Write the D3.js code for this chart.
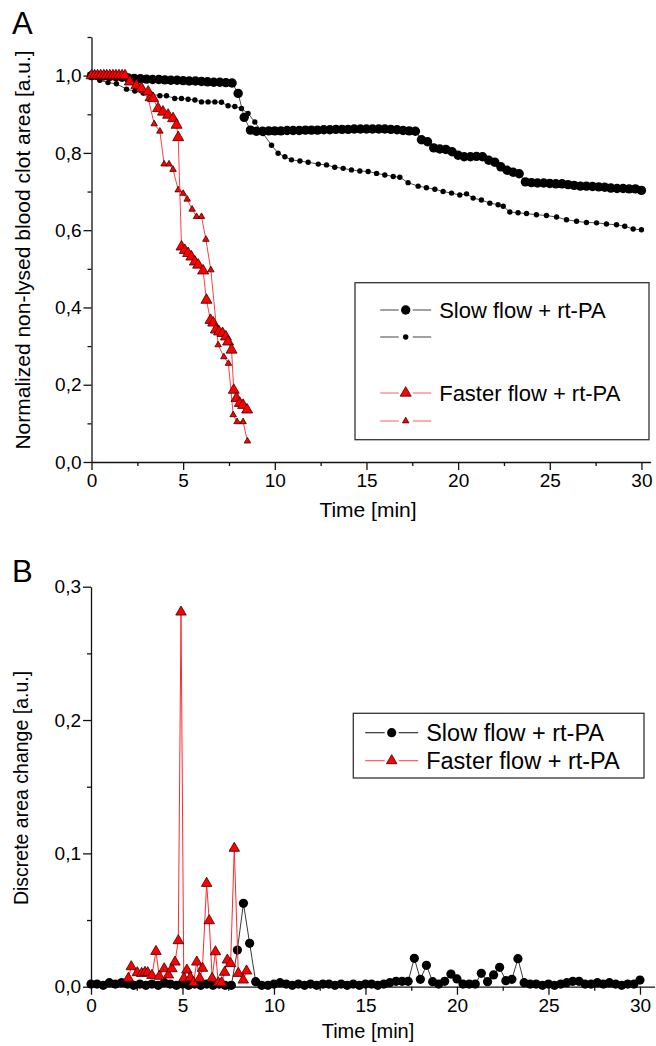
<!DOCTYPE html>
<html>
<head>
<meta charset="utf-8">
<script src="https://cdn.jsdelivr.net/npm/d3@7"></script>
<style>
    body { margin: 0; background: #fff; }
    text { font-family: "Liberation Sans", Arial, sans-serif; fill: #000; }
</style>
</head>
<body>
<script>
/*--------- Données ------------------------------------*/

// A : slow flow, grands cercles (pas de 20 s)
var slowBigTime = [0, 0.33, 0.67, 1, 1.33, 1.67, 2, 2.33, 2.67, 3, 3.33, 3.67, 4, 4.33, 4.67, 5, 5.33, 5.67,
    6, 6.33, 6.67, 7, 7.33, 7.67, 8, 8.33, 8.67, 9, 9.33, 9.67, 10, 10.33, 10.67, 11, 11.33, 11.67,
    12, 12.33, 12.67, 13, 13.33, 13.67, 14, 14.33, 14.67, 15, 15.33, 15.67, 16, 16.33, 16.67, 17, 17.33, 17.67,
    18, 18.33, 18.67, 19, 19.33, 19.67, 20, 20.33, 20.67, 21, 21.33, 21.67, 22, 22.33, 22.67, 23, 23.33, 23.67,
    24, 24.33, 24.67, 25, 25.33, 25.67, 26, 26.33, 26.67, 27, 27.33, 27.67, 28, 28.33, 28.67, 29, 29.33, 29.67, 30];
var slowBigArea = [1.000, 1.000, 0.999, 0.998, 0.997, 0.996, 0.994, 0.993, 0.992, 0.991, 0.990, 0.990, 0.989, 0.988, 0.988, 0.987, 0.986, 0.986,
    0.985, 0.984, 0.983, 0.983, 0.982, 0.981, 0.954, 0.892, 0.859, 0.856, 0.856, 0.857, 0.857, 0.857, 0.858, 0.858, 0.858, 0.859,
    0.859, 0.859, 0.860, 0.860, 0.861, 0.861, 0.861, 0.862, 0.862, 0.862, 0.862, 0.862, 0.862, 0.861, 0.860, 0.858, 0.857, 0.856,
    0.834, 0.829, 0.813, 0.810, 0.809, 0.803, 0.794, 0.790, 0.790, 0.791, 0.790, 0.781, 0.776, 0.764, 0.755, 0.750, 0.746, 0.725,
    0.723, 0.722, 0.722, 0.721, 0.720, 0.720, 0.718, 0.716, 0.714, 0.714, 0.713, 0.712, 0.711, 0.709, 0.708, 0.708, 0.707, 0.707, 0.703];

// A : slow flow, petits cercles
var slowSmallTime = [0, 0.45, 0.9, 1.36, 1.91, 2.36, 2.82, 3.27, 3.73, 4.09, 4.54, 4.91, 5.27, 5.64, 6.0, 6.36, 6.73, 7.09, 7.45, 7.82,
    8.18, 8.54, 8.91, 9.36, 9.82, 10.18, 10.55, 10.91, 11.37, 11.82, 12.37, 12.82, 13.27, 13.73, 14.18, 14.64, 15.09, 15.55, 16.0, 16.46,
    16.82, 17.27, 17.82, 18.27, 18.73, 19.18, 19.64, 20.09, 20.46, 20.82, 21.27, 21.73, 22.18, 22.46, 22.82, 23.27, 23.73, 24.27, 24.82, 25.37,
    25.91, 26.46, 27.0, 27.55, 28.09, 28.64, 29.09, 29.55, 30.0];
var slowSmallArea = [1.0, 0.988, 0.982, 0.979, 0.965, 0.960, 0.955, 0.952, 0.948, 0.948, 0.941, 0.941, 0.939, 0.937, 0.932, 0.932, 0.932, 0.931, 0.922, 0.920,
    0.915, 0.902, 0.880, 0.850, 0.820, 0.799, 0.790, 0.782, 0.779, 0.776, 0.771, 0.769, 0.763, 0.760, 0.756, 0.753, 0.752, 0.747, 0.743, 0.739,
    0.737, 0.723, 0.714, 0.710, 0.706, 0.700, 0.696, 0.691, 0.694, 0.683, 0.678, 0.670, 0.666, 0.662, 0.647, 0.645, 0.643, 0.640, 0.638, 0.634,
    0.627, 0.623, 0.620, 0.619, 0.616, 0.614, 0.610, 0.603, 0.601];

// A : faster flow, grands triangles
var fastBigTime = [0, 0.17, 0.33, 0.5, 0.67, 0.83, 1.0, 1.17, 1.33, 1.5, 1.67, 1.83, 2.09, 2.45, 2.73, 3.09, 3.36, 3.63, 3.9, 4.18, 4.45, 4.64,
    4.73, 4.91, 5.09, 5.27, 5.45, 5.64, 5.82, 6.09, 6.27, 6.49, 6.64, 6.78, 6.96, 7.15, 7.33, 7.45, 7.64, 7.76, 7.91, 8.09, 8.27, 8.49];
var fastBigArea = [1, 1, 1, 1, 1, 1, 1, 1, 1, 1, 1, 1, 0.984, 0.975, 0.967, 0.958, 0.941, 0.915, 0.906, 0.898, 0.889, 0.872,
    0.84, 0.557, 0.548, 0.54, 0.531, 0.518, 0.51, 0.495, 0.419, 0.367, 0.36, 0.342, 0.337, 0.333, 0.324, 0.311, 0.29, 0.186, 0.165, 0.152, 0.147, 0.135];

// A : faster flow, petits triangles
var fastSmallTime = [0, 0.27, 0.55, 0.82, 1.09, 1.36, 1.64, 1.91, 2.2, 2.5, 2.8, 3.1, 3.42, 3.73, 3.96, 4.23, 4.45, 4.73, 5.0, 5.22,
    5.49, 5.73, 6.0, 6.24, 6.51, 6.91, 7.22, 7.47, 7.73, 7.94, 8.27, 8.51];
var fastSmallArea = [1, 1, 1, 1, 1, 1, 1, 0.995, 0.985, 0.975, 0.96, 0.94, 0.875, 0.856, 0.771, 0.771, 0.757, 0.704, 0.695, 0.68,
    0.654, 0.635, 0.635, 0.576, 0.497, 0.303, 0.272, 0.255, 0.122, 0.104, 0.104, 0.054];

// B : variation discrète, slow flow (mêmes temps que slowBigTime)
var slowChange = [0.002, 0.002, 0.001, 0.003, 0.002, 0.003, 0.002, 0.001, 0.002, 0.001, 0.002, 0.001, 0.003, 0.002, 0.001, 0.002, 0.001, 0.002,
    0.001, 0.002, 0.001, 0.002, 0.001, 0.001, 0.0275, 0.0625, 0.0325, 0.0038, 0.001, 0.001, 0.002, 0.003, 0.002, 0.001, 0.002, 0.001,
    0.002, 0.001, 0.002, 0.002, 0.001, 0.002, 0.001, 0.002, 0.001, 0.002, 0.002, 0.001, 0.002, 0.003, 0.004, 0.004, 0.004, 0.0213,
    0.0055, 0.016, 0.0038, 0.002, 0.004, 0.0095, 0.0058, 0.002, 0.002, 0.002, 0.010, 0.0038, 0.0088, 0.0145, 0.0045, 0.0055, 0.021, 0.003,
    0.002, 0.002, 0.001, 0.002, 0.001, 0.002, 0.003, 0.004, 0.004, 0.002, 0.002, 0.003, 0.002, 0.003, 0.002, 0.001, 0.002, 0.002, 0.005];

// B : variation discrète, faster flow
var fastChangeTime = [2.04, 2.2, 2.53, 2.77, 2.95, 3.1, 3.33, 3.55, 3.73, 4.0, 4.23, 4.42, 4.59, 4.77, 4.92, 5.07, 5.24, 5.43,
    5.6, 5.78, 5.94, 6.09, 6.32, 6.46, 6.62, 6.8, 6.96, 7.14, 7.3, 7.45, 7.63, 7.83, 8.05, 8.32, 8.5];
var fastChange = [0.0063, 0.015, 0.0105, 0.01, 0.0108, 0.0105, 0.0085, 0.0265, 0.0078, 0.0135, 0.0088, 0.0135, 0.0185, 0.0345, 0.281, 0.0063, 0.0125, 0.0068,
    0.003, 0.0185, 0.0063, 0.0138, 0.0775, 0.0495, 0.0063, 0.0262, 0.003, 0.003, 0.0108, 0.02, 0.0173, 0.1038, 0.01, 0.005, 0.0118];

// graduations
var xMajor = [0, 5, 10, 15, 20, 25, 30];
var xMinor = [2.5, 7.5, 12.5, 17.5, 22.5, 27.5];
var yMajorA = [0, 0.2, 0.4, 0.6, 0.8, 1.0];
var yMinorA = [0.1, 0.3, 0.5, 0.7, 0.9, 1.1];
var yMajorB = [0, 0.1, 0.2, 0.3];
var yMinorB = [0.05, 0.15, 0.25];

var labelSlow = "Slow flow + rt-PA";
var labelFast = "Faster flow + rt-PA";

/*--------- Mise en place -----------------*/
var width = 656;
var height = 1046;
var red = "#ff0000";
var redLine = "#ff2a2a";

var svg = d3.select("body")
    .append("svg")
    .attr("width", width)
    .attr("height", height);

var comma = function (d) { return d3.format(".1f")(d).replace(".", ","); };

function zip(t, v) {
    return t.map(function (d, i) { return { t: d, v: v[i] }; });
}

// axes avec graduations mineures
function drawAxes(x, y, yMaj, yMin) {
    var y0 = y(0);
    svg.append("g")
        .attr("transform", "translate(0," + y0 + ")")
        .call(d3.axisBottom(x).tickValues(xMajor).tickSize(8).tickPadding(4).tickSizeOuter(0).tickFormat(d3.format("d")));
    svg.append("g")
        .attr("transform", "translate(0," + y0 + ")")
        .call(d3.axisBottom(x).tickValues(xMinor).tickSize(4).tickFormat(""))
        .call(function (g) { g.select(".domain").remove(); });

    var x0 = x(0);
    svg.append("g")
        .attr("transform", "translate(" + x0 + ",0)")
        .call(d3.axisLeft(y).tickValues(yMaj).tickSize(8).tickPadding(2).tickSizeOuter(0).tickFormat(comma));
    svg.append("g")
        .attr("transform", "translate(" + x0 + ",0)")
        .call(d3.axisLeft(y).tickValues(yMin).tickSize(4).tickFormat(""))
        .call(function (g) { g.select(".domain").remove(); });

    svg.selectAll(".tick line, .domain").attr("stroke", "#111").attr("stroke-width", 1.3);
    svg.selectAll(".tick text").attr("font-size", 19).attr("font-family", "Liberation Sans, Arial, sans-serif");
}

function drawLine(data, x, y, color, w) {
    svg.append("path")
        .datum(data)
        .attr("fill", "none")
        .attr("stroke", color)
        .attr("stroke-width", w)
        .attr("d", d3.line().x(function (d) { return x(d.t); }).y(function (d) { return y(d.v); }));
}

function drawCircles(data, x, y, r) {
    svg.append("g")
        .selectAll("circle")
        .data(data)
        .enter()
        .append("circle")
        .attr("cx", function (d) { return x(d.t); })
        .attr("cy", function (d) { return y(d.v); })
        .attr("r", r)
        .attr("fill", "#000");
}

function drawTriangles(data, x, y, w) {
    var sym = d3.symbol().type(d3.symbolTriangle).size(Math.sqrt(3) / 4 * w * w);
    svg.append("g")
        .selectAll("path")
        .data(data)
        .enter()
        .append("path")
        .attr("transform", function (d) { return "translate(" + x(d.t) + "," + y(d.v) + ")"; })
        .attr("d", sym)
        .attr("fill", red)
        .attr("stroke", "#3a0000")
        .attr("stroke-width", 0.8);
}

// une ligne de légende : trait - symbole - trait
function legendRow(cx, cy, half, gap, kind, size, color, label, fs) {
    svg.append("line").attr("x1", cx - half).attr("x2", cx - gap).attr("y1", cy).attr("y2", cy)
        .attr("stroke", color).attr("stroke-width", 1.1);
    svg.append("line").attr("x1", cx + gap).attr("x2", cx + half).attr("y1", cy).attr("y2", cy)
        .attr("stroke", color).attr("stroke-width", 1.1);
    if (kind == "circle") {
        svg.append("circle").attr("cx", cx).attr("cy", cy).attr("r", size).attr("fill", "#000");
    } else {
        svg.append("path")
            .attr("transform", "translate(" + cx + "," + cy + ")")
            .attr("d", d3.symbol().type(d3.symbolTriangle).size(Math.sqrt(3) / 4 * size * size))
            .attr("fill", red).attr("stroke", "#3a0000").attr("stroke-width", 0.8);
    }
    if (label) {
        svg.append("text").attr("x", cx + half + 8).attr("y", cy + fs * 0.36)
            .attr("font-size", fs).text(label);
    }
}

/*--------- Panneau A -----------------*/
var xA = d3.scaleLinear().domain([0, 30.5]).range([91.5, 650.6]);
var yA = d3.scaleLinear().domain([0, 1.1]).range([462, 37]);

drawAxes(xA, yA, yMajorA, yMinorA);

var sSmall = zip(slowSmallTime, slowSmallArea);
var sBig = zip(slowBigTime, slowBigArea);
var fSmall = zip(fastSmallTime, fastSmallArea);
var fBig = zip(fastBigTime, fastBigArea);

drawLine(sSmall, xA, yA, "#222", 0.8);
drawCircles(sSmall, xA, yA, 2.7);
drawLine(sBig, xA, yA, "#222", 0.8);
drawCircles(sBig, xA, yA, 4.7);
drawLine(fSmall, xA, yA, redLine, 0.9);
drawTriangles(fSmall, xA, yA, 6.5);
drawLine(fBig, xA, yA, redLine, 0.9);
drawTriangles(fBig, xA, yA, 11);

svg.append("text").attr("x", 12).attr("y", 34).attr("font-size", 31).text("A");
svg.append("text").attr("x", 368).attr("y", 517).attr("font-size", 21)
    .attr("text-anchor", "middle").text("Time [min]");
svg.append("text").attr("transform", "translate(30,250) rotate(-90)")
    .attr("font-size", 21).attr("text-anchor", "middle")
    .text("Normalized non-lysed blood clot area [a.u.]");

// légende A
svg.append("rect").attr("x", 355).attr("y", 282.7).attr("width", 294).attr("height", 157)
    .attr("fill", "#fff").attr("stroke", "#333").attr("stroke-width", 1.3);
legendRow(405.7, 310, 25.5, 7, "circle", 4.7, "#555", labelSlow, 22);
legendRow(405.7, 337, 25.5, 7, "circle", 2.7, "#555", null, 22);
legendRow(405.7, 393, 25.5, 7, "triangle", 11, "#ff6a6a", labelFast, 22);
legendRow(405.7, 421, 25.5, 7, "triangle", 6.5, "#ff6a6a", null, 22);

/*--------- Panneau B -----------------*/
var xB = d3.scaleLinear().domain([0, 30.8]).range([91, 654.6]);
var yB = d3.scaleLinear().domain([0, 0.3]).range([986.7, 586.7]);

drawAxes(xB, yB, yMajorB, yMinorB);

var sChange = zip(slowBigTime, slowChange);
var fChange = zip(fastChangeTime, fastChange);

drawLine(sChange, xB, yB, "#222", 0.9);
drawCircles(sChange, xB, yB, 4.6);
drawLine(fChange, xB, yB, redLine, 1);
drawTriangles(fChange, xB, yB, 10.5);

svg.append("text").attr("x", 12).attr("y", 582).attr("font-size", 31).text("B");
svg.append("text").attr("x", 368).attr("y", 1038).attr("font-size", 20)
    .attr("text-anchor", "middle").text("Time [min]");
svg.append("text").attr("transform", "translate(28,788) rotate(-90)")
    .attr("font-size", 19.5).attr("text-anchor", "middle")
    .text("Discrete area change [a.u.]");

// légende B
svg.append("rect").attr("x", 353.3).attr("y", 713.3).attr("width", 290.7).attr("height", 64.7)
    .attr("fill", "#fff").attr("stroke", "#333").attr("stroke-width", 1.3);
legendRow(391.7, 732.7, 26.5, 7, "circle", 4.6, "#222", labelSlow, 23.5);
legendRow(391.7, 760.7, 26.5, 7, "triangle", 10.5, "#ff4a4a", labelFast, 23.5);
</script>
</body>
</html>
